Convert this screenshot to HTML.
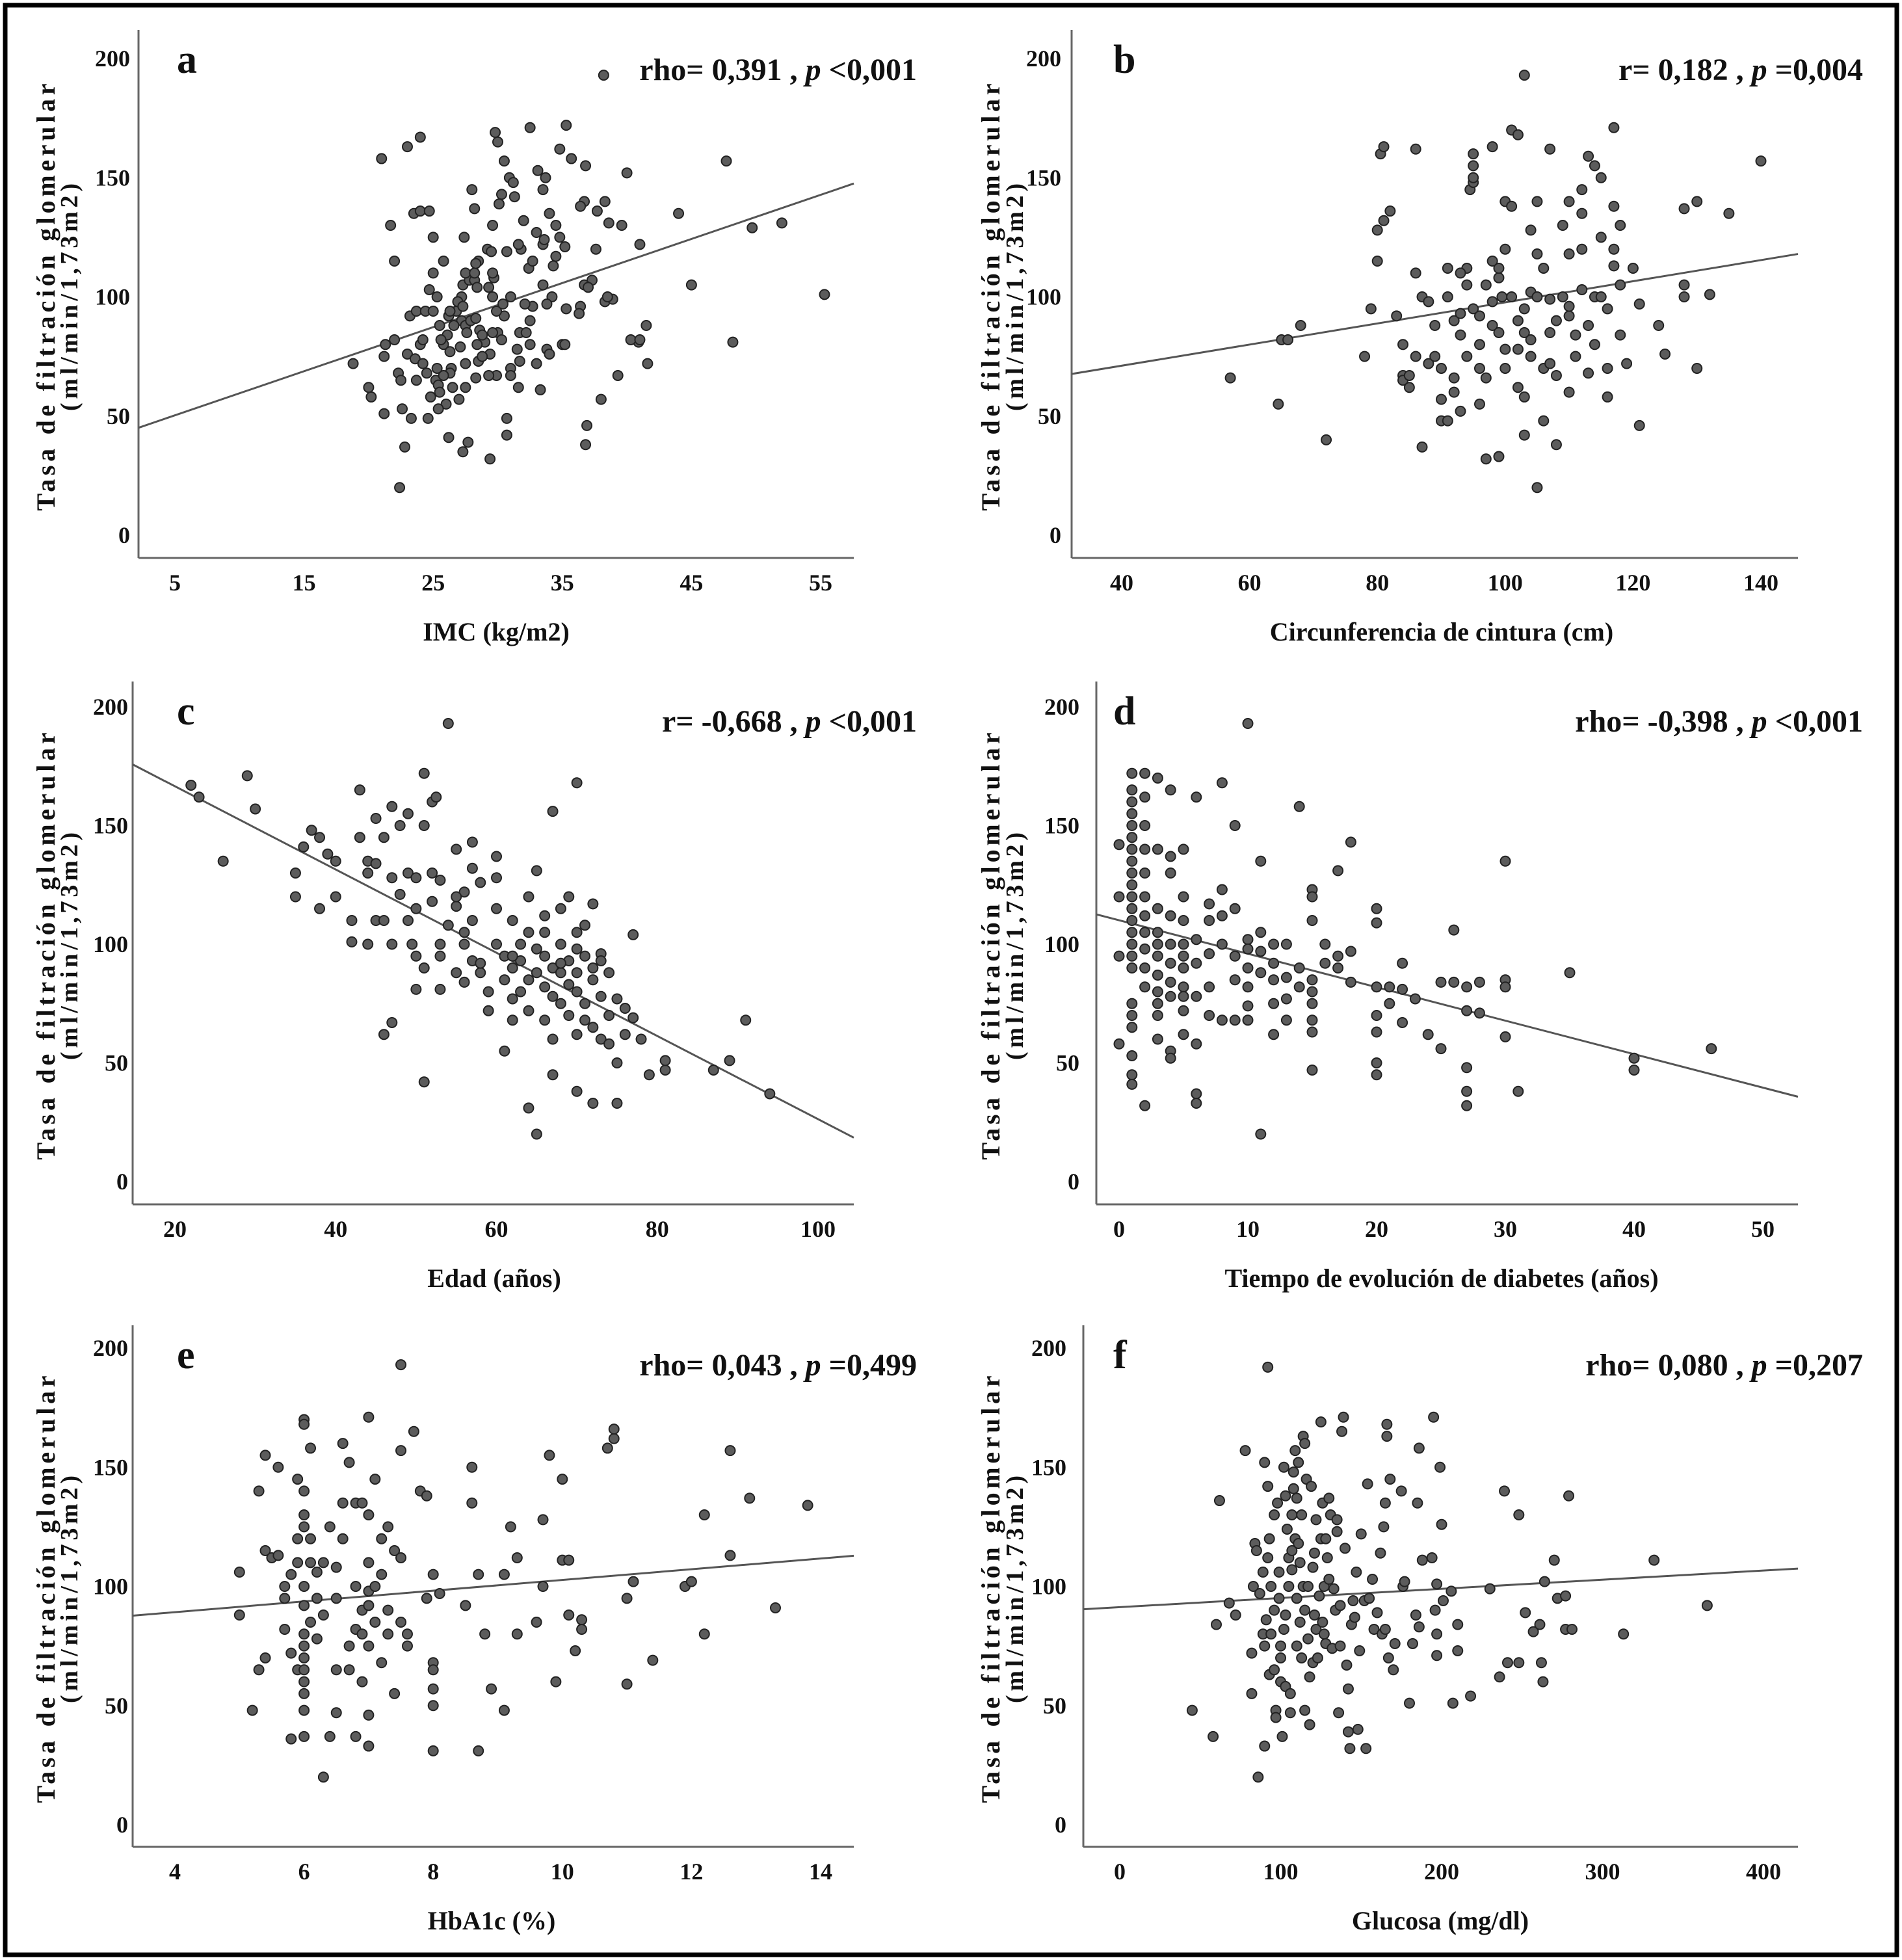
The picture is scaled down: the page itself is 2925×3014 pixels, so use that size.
<!DOCTYPE html>
<html><head><meta charset="utf-8"><style>
html,body{margin:0;padding:0;background:#fff}
svg{display:block}
text{font-family:"Liberation Serif",serif;font-weight:bold;fill:#111}
</style></head><body>
<svg id="fig" xmlns="http://www.w3.org/2000/svg" width="2925" height="3014" viewBox="0 0 2925 3014">
<rect x="8" y="8" width="2909" height="2998" fill="#fff" stroke="#000" stroke-width="7"/>
</svg>
<script>
const yTicks=[0,50,100,150,200];
const xTicksA=[5,15,25,35,45,55];
const xTicksB=[40,60,80,100,120,140];
const xTicksC=[20,40,60,80,100];
const xTicksD=[0,10,20,30,40,50];
const xTicksE=[4,6,8,10,12,14];
const xTicksF=[0,100,200,300,400];
const fitA=[41.05,1.85];
const fitB=[53.4,0.443];
const fitC=[201.6,-1.753];
const fitD=[110.1,-1.41];
const fitE=[80.2,2.25];
const fitF=[91.3,0.0384];
const ptsA=[[38.2,193],[21,158],[23,163],[24,167],[29.8,169],[30,165],[32.5,171],[35.3,172],[34.8,162],[35.7,158],[36.8,155],[40,152],[47.7,157],[44,135],[49.7,129],[52,131],[55.3,101],[45,105],[48.2,81],[41.5,88],[41.6,72],[39.3,67],[38,57],[36.9,46],[36.8,38],[40.9,81],[40.3,82],[41,82],[22.4,20],[22.8,37],[27.3,35],[29.4,32],[27.7,39],[26.2,41],[30.7,42],[30.7,49],[23.3,49],[24.6,49],[21.2,51],[22.6,53],[20.2,58],[20,62],[18.8,72],[22,115],[21.7,130],[23.5,135],[24,136],[24.7,136],[25,125],[28,145],[30.5,157],[30.9,150],[31.2,148],[31.3,142],[30.3,143],[30.1,139],[33.1,153],[33.7,150],[33.5,145],[34,135],[32,132],[33,127],[33.5,122],[34.5,130],[34.8,125],[34.5,117],[35.2,121],[36.7,140],[36.4,138],[38.3,140],[37.7,136],[38.6,131],[39.6,130],[41,122],[37.6,120],[37.3,107],[36.7,105],[37,104],[38.3,98],[38.9,99],[38.5,100],[36.4,96],[35.3,95],[36.3,93],[34.2,100],[33.5,105],[33.8,97],[32.7,96],[32.1,97],[32.5,90],[31.7,85],[32.2,85],[31.8,120],[32.4,112],[32.7,115],[34.3,113],[33.6,124],[28.2,137],[27.4,125],[29.2,120],[29.5,119],[29.6,130],[31.6,122],[30.7,119],[31,100],[30.5,92],[30,85],[30.3,82],[31.5,78],[31.7,73],[32.5,80],[33,72],[31,70],[31,67],[29.9,67],[29.3,67],[31.6,62],[33.3,61],[33.8,78],[34,76],[35,80],[35.2,80],[23,76],[23.6,74],[24.2,72],[24,80],[22,82],[21.3,80],[21.2,75],[22.3,68],[23.7,65],[22.5,65],[25.2,65],[25.4,63],[25.5,60],[26.5,62],[26,55],[25.4,53],[24.8,58],[27,57],[27.5,62],[28.3,66],[28.5,73],[27.5,72],[26.4,70],[26.3,68],[25.8,67],[25.3,70],[24.5,68],[23.2,92],[23.7,94],[24.4,94],[25,94],[25.5,88],[26.1,84],[25.8,80],[24.2,82],[25.6,82],[26.2,92],[26.8,94],[27.2,90],[27.5,88],[27.9,90],[28.3,91],[28.6,86],[29,81],[28.8,84],[29.6,85],[29.9,94],[30.4,97],[29.6,100],[29.3,104],[29.7,108],[29.6,110],[28.5,115],[27.3,105],[27.8,107],[28.2,107],[28.4,104],[27.2,100],[26.9,98],[27.3,96],[26.3,94],[26.6,88],[27.6,85],[28.4,80],[29.4,76],[28.8,75],[27.1,79],[26.3,77],[24.7,103],[25.3,100],[25,110],[25.8,115],[27.5,110],[28.2,110],[28.3,114]];
const ptsB=[[103,193],[57,66],[64.5,55],[65,82],[66,82],[68,88],[72,40],[78,75],[79,95],[80,115],[80,128],[80.5,160],[81,163],[81,132],[82,136],[83,92],[84,80],[84,67],[84,65],[85,62],[85,67],[86,162],[86,110],[87,37],[87,100],[88,72],[88,98],[89,75],[90,70],[90,57],[90,48],[91,48],[91,112],[91,100],[92,90],[92,66],[92,60],[93,93],[93,84],[93,52],[94,75],[94,105],[94,112],[94.5,145],[95,148],[95,150],[95,155],[95,160],[96,92],[96,80],[96,70],[96,55],[97,32],[97,66],[98,115],[98,98],[98,88],[98,163],[99,33],[99,85],[99,108],[99.5,100],[100,120],[100,140],[100,70],[100,78],[101,138],[101,170],[102,168],[102,90],[102,78],[102,62],[103,95],[103,42],[103,58],[104,75],[104,82],[104,102],[104,128],[105,20],[105,118],[105,140],[105,100],[106,112],[106,70],[106,48],[107,85],[107,99],[107,162],[107,72],[108,90],[108,67],[108,38],[109,130],[109,100],[110,60],[110,92],[110,96],[110,118],[111,84],[111,75],[112,103],[112,120],[112,135],[113,159],[113,88],[113,68],[114,100],[114,80],[114,155],[115,100],[115,150],[115,125],[116,58],[116,70],[116,95],[117,171],[117,138],[117,120],[117,113],[118,105],[118,84],[118,130],[119,72],[120,112],[121,46],[121,97],[124,88],[125,76],[128,137],[128,105],[128,100],[130,140],[130,70],[132,101],[135,135],[140,157],[97,105],[99,112],[101,100],[103,85],[95,95],[93,110],[89,88],[86,75],[110,140],[112,145]];
const ptsC=[[22,167],[23,162],[26,135],[29,171],[30,157],[35,130],[35,120],[36,141],[37,148],[38,145],[38,115],[39,138],[40,135],[40,120],[42,110],[42,101],[43,165],[43,145],[44,130],[44,135],[45,134],[45,153],[45,110],[46,145],[46,62],[46,110],[47,128],[47,158],[47,67],[48,121],[48,150],[49,110],[49,155],[49,130],[49.5,100],[50,128],[50,81],[50,95],[50,115],[51,172],[51,150],[51,90],[51,42],[52,118],[52,160],[52,130],[52.5,162],[53,100],[53,95],[53,81],[54,193],[54,108],[55,88],[55,116],[55,140],[56,122],[56,105],[56,84],[56,100],[57,143],[57,132],[57,110],[57,93],[58,88],[58,126],[58,92],[59,80],[59,72],[60,100],[60,115],[60,137],[61,85],[61,55],[61,95],[62,90],[62,110],[62,77],[62,68],[63,80],[63,100],[63,93],[64,85],[64,31],[64,72],[64,120],[65,20],[65,88],[65,131],[65,98],[66,82],[66,68],[66,95],[66,105],[67,156],[67,60],[67,45],[67,78],[67,90],[68,115],[68,100],[68,75],[68,88],[69,83],[69,93],[69,70],[69,120],[70,168],[70,98],[70,62],[70,80],[70,88],[70,38],[71,95],[71,75],[71,68],[71,108],[72,90],[72,65],[72,85],[72,33],[72,117],[73,96],[73,78],[73,93],[73,60],[74,70],[74,58],[74,88],[75,77],[75,33],[75,50],[76,73],[76,62],[77,69],[77,104],[78,60],[79,45],[81,47],[81,51],[87,47],[89,51],[91,68],[94,37],[60,128],[62,95],[64,105],[66,112],[68,92],[70,105],[53,127],[47,100],[44,100],[55,120]];
const ptsD=[[0,142],[0,95],[0,120],[0,58],[1,172],[1,165],[1,160],[1,155],[1,150],[1,145],[1,140],[1,135],[1,130],[1,125],[1,120],[1,115],[1,110],[1,105],[1,100],[1,95],[1,90],[1,75],[1,70],[1,65],[1,45],[1,41],[1,53],[2,172],[2,162],[2,150],[2,140],[2,130],[2,120],[2,112],[2,105],[2,98],[2,90],[2,82],[2,32],[3,170],[3,140],[3,115],[3,105],[3,100],[3,95],[3,87],[3,80],[3,75],[3,70],[3,60],[4,165],[4,137],[4,130],[4,112],[4,100],[4,92],[4,84],[4,78],[4,55],[4,52],[5,140],[5,120],[5,110],[5,100],[5,95],[5,90],[5,82],[5,78],[5,72],[5,62],[6,162],[6,102],[6,78],[6,37],[6,33],[6,58],[6,92],[7,117],[7,110],[7,96],[7,82],[7,70],[8,168],[8,100],[8,68],[8,112],[8,123],[9,150],[9,115],[9,95],[9,85],[9,68],[10,193],[10,102],[10,98],[10,90],[10,82],[10,74],[10,68],[11,135],[11,105],[11,97],[11,88],[11,20],[12,100],[12,92],[12,85],[12,75],[12,62],[13,100],[13,86],[13,77],[14,158],[14,90],[14,82],[15,123],[15,120],[15,110],[15,85],[15,80],[15,75],[15,68],[15,63],[15,47],[16,100],[16,92],[17,131],[17,95],[17,90],[18,143],[18,97],[20,115],[20,109],[20,82],[20,70],[20,63],[20,50],[20,45],[21,82],[21,75],[22,81],[22,67],[22,92],[23,77],[24,62],[25,56],[26,106],[26,84],[27,82],[27,48],[27,38],[27,32],[28,71],[28,84],[30,135],[30,85],[30,82],[30,61],[31,38],[35,88],[40,52],[40,47],[46,56],[27,72],[25,84],[18,84],[13,68]];
const ptsE=[[5,106],[5,88],[5.2,48],[5.3,140],[5.4,155],[5.4,115],[5.3,65],[5.4,70],[5.5,112],[5.6,150],[5.6,113],[5.7,95],[5.7,82],[5.8,105],[5.8,36],[5.8,72],[5.9,145],[5.9,110],[5.9,120],[5.9,65],[6,170],[6,168],[6,140],[6,130],[6,125],[6,100],[6,92],[6,80],[6,75],[6,70],[6,65],[6,60],[6,55],[6,48],[6,37],[6.1,158],[6.1,120],[6.1,110],[6.1,85],[6.2,106],[6.2,95],[6.2,78],[6.3,20],[6.3,88],[6.4,37],[6.5,47],[6.5,65],[6.5,95],[6.5,108],[6.6,160],[6.6,120],[6.7,152],[6.7,75],[6.7,65],[6.8,135],[6.8,100],[6.8,82],[6.8,37],[6.9,135],[6.9,90],[6.9,80],[6.9,60],[7,171],[7,130],[7,110],[7,98],[7,92],[7,75],[7,46],[7,33],[7.1,145],[7.1,100],[7.1,85],[7.2,120],[7.2,68],[7.3,125],[7.3,90],[7.3,80],[7.4,115],[7.4,55],[7.5,193],[7.5,157],[7.5,112],[7.5,85],[7.6,80],[7.6,75],[7.7,165],[7.8,140],[7.9,138],[7.9,95],[8,105],[8,68],[8,65],[8,57],[8,50],[8,31],[8.1,97],[8.5,92],[8.6,150],[8.6,135],[8.7,105],[8.7,31],[8.8,80],[8.9,57],[9.1,48],[9.1,105],[9.2,125],[9.3,80],[9.3,112],[9.6,85],[9.7,128],[9.7,100],[9.8,155],[9.9,60],[10,145],[10,111],[10.1,111],[10.1,88],[10.2,73],[10.3,86],[10.3,82],[10.7,158],[10.8,162],[10.8,166],[11,95],[11,59],[11.1,102],[11.4,69],[11.9,100],[12,102],[12.2,80],[12.2,130],[12.6,157],[12.6,113],[12.9,137],[13.3,91],[13.8,134],[6.4,125],[6.6,135],[7.2,105],[6.3,110],[5.7,100]];
const ptsF=[[45,48],[58,37],[60,84],[62,136],[68,93],[72,88],[78,157],[82,55],[82,72],[83,100],[84,118],[85,115],[86,20],[87,97],[89,106],[89,80],[90,152],[90,33],[90,75],[91,86],[92,192],[92,142],[92,112],[93,63],[93,120],[94,100],[94,80],[96,90],[96,130],[96,65],[97,48],[97,45],[98,135],[99,106],[99,95],[100,75],[100,60],[100,70],[101,37],[102,150],[102,82],[103,138],[103,88],[103,58],[104,124],[105,100],[105,112],[106,47],[106,55],[107,115],[107,107],[107,130],[108,141],[108,148],[109,120],[109,157],[110,137],[110,95],[110,75],[111,152],[111,118],[112,110],[112,85],[113,130],[113,70],[114,163],[114,100],[115,90],[115,48],[115,160],[116,145],[117,78],[117,100],[118,62],[118,42],[119,142],[120,68],[120,108],[121,114],[121,88],[122,82],[122,128],[123,70],[124,96],[125,120],[125,169],[126,85],[126,135],[127,100],[127,80],[128,76],[128,120],[129,112],[130,103],[130,137],[131,130],[132,74],[133,99],[134,90],[135,123],[135,128],[136,47],[137,75],[137,92],[138,165],[139,171],[140,116],[141,67],[142,57],[142,39],[143,32],[144,84],[145,94],[146,87],[147,106],[148,40],[149,73],[150,122],[152,94],[153,32],[154,143],[155,95],[157,103],[158,82],[160,89],[162,114],[163,80],[164,125],[165,82],[165,135],[166,163],[166,168],[167,70],[168,145],[170,65],[171,76],[175,140],[176,100],[177,102],[180,51],[182,76],[184,88],[185,135],[186,158],[186,83],[188,111],[194,112],[195,171],[196,90],[197,80],[197,71],[197,101],[199,150],[200,126],[201,94],[206,98],[207,51],[210,84],[210,73],[218,54],[230,99],[236,62],[239,140],[241,68],[248,68],[248,130],[252,89],[257,81],[261,84],[262,68],[263,60],[264,102],[270,111],[272,95],[277,82],[277,96],[279,138],[281,82],[313,80],[332,111],[365,92]];

const NS="http://www.w3.org/2000/svg";
const svg=document.getElementById('fig');
function mk(tag,attrs,parent,txt){const e=document.createElementNS(NS,tag);for(const k in attrs)e.setAttribute(k,attrs[k]);if(txt!==undefined)e.textContent=txt;parent.appendChild(e);return e;}

const panels=[
 {id:'a',pts:ptsA,fit:fitA,xt:xTicksA,ax:213,right:1313,top:46,bottom:858,x0:[5,269],x1:[55,1262],y0:823,y200:90,lblR:200,letterX:272,statR:1410,stat:['rho= 0,391 , ','p',' <0,001'],xtitle:'IMC (kg/m2)',xtc:763,t1:84,t2:119},
 {id:'b',pts:ptsB,fit:fitB,xt:xTicksB,ax:1648,right:2765,top:46,bottom:858,x0:[40,1725],x1:[140,2708],y0:823,y200:90,lblR:1632,letterX:1712,statR:2865,stat:['r= 0,182 , ','p',' =0,004'],xtitle:'Circunferencia de cintura (cm)',xtc:2217,t1:1537,t2:1573},
 {id:'c',pts:ptsC,fit:fitC,xt:xTicksC,ax:204,right:1313,top:1048,bottom:1852,x0:[20,269],x1:[100,1258],y0:1817,y200:1087,lblR:197,letterX:272,statR:1410,stat:['r= -0,668 , ','p',' <0,001'],xtitle:'Edad (años)',xtc:760,t1:84,t2:119},
 {id:'d',pts:ptsD,fit:fitD,xt:xTicksD,ax:1686,right:2765,top:1048,bottom:1852,x0:[0,1721],x1:[50,2711],y0:1817,y200:1087,lblR:1660,letterX:1712,statR:2865,stat:['rho= -0,398 , ','p',' <0,001'],xtitle:'Tiempo de evolución de diabetes (años)',xtc:2217,t1:1537,t2:1573},
 {id:'e',pts:ptsE,fit:fitE,xt:xTicksE,ax:204,right:1313,top:2038,bottom:2840,x0:[4,269],x1:[14,1262],y0:2806,y200:2073,lblR:197,letterX:272,statR:1410,stat:['rho= 0,043 , ','p',' =0,499'],xtitle:'HbA1c (%)',xtc:756,t1:84,t2:119},
 {id:'f',pts:ptsF,fit:fitF,xt:xTicksF,ax:1666,right:2765,top:2038,bottom:2840,x0:[0,1722],x1:[400,2712],y0:2806,y200:2073,lblR:1640,letterX:1712,statR:2865,stat:['rho= 0,080 , ','p',' =0,207'],xtitle:'Glucosa (mg/dl)',xtc:2215,t1:1537,t2:1573}
];

panels.forEach(p=>{
  const g=mk('g',{},svg);
  
  
  const sx=v=>p.x0[1]+(v-p.x0[0])*(p.x1[1]-p.x0[1])/(p.x1[0]-p.x0[0]);
  const sy=v=>p.y0+(v)*(p.y200-p.y0)/200;
  const ix=px=>p.x0[0]+(px-p.x0[1])*(p.x1[0]-p.x0[0])/(p.x1[1]-p.x0[1]);
  const ya=mk('line',{x1:p.ax,y1:p.top,x2:p.ax,y2:p.bottom,stroke:'#666','stroke-width':3},g);
  
  
  const xa=mk('line',{x1:p.ax,y1:p.bottom,x2:p.right,y2:p.bottom,stroke:'#666','stroke-width':3},g);
  
  
  yTicks.forEach(t=>{
    const e=mk('text',{x:p.lblR,y:sy(t)+12,'text-anchor':'end','font-size':36},g,String(t));
    
    
  });
  const xb=p.bottom+50;
  p.xt.forEach(t=>{
    const e=mk('text',{x:sx(t),y:xb,'text-anchor':'middle','font-size':36},g,String(t));
    
    
  });
  const xl=ix(p.ax), xr=ix(p.right);
  const fl=mk('line',{x1:p.ax,y1:sy(p.fit[0]+p.fit[1]*xl),x2:p.right,y2:sy(p.fit[0]+p.fit[1]*xr),stroke:'#555','stroke-width':3},g);
  
  
  p.pts.forEach(d=>{
    const c=mk('circle',{cx:sx(d[0]),cy:sy(d[1]),r:7.5,fill:'#5c5c5c',stroke:'#222','stroke-width':2},g);
    
    
  });
  const L=mk('text',{x:p.letterX,y:p.top+66,'font-size':62},g,p.id);
  
  
  const st=mk('text',{x:p.statR,y:p.top+77,'text-anchor':'end','font-size':48},g);
  
  
  mk('tspan',{},st,p.stat[0]); mk('tspan',{'font-style':'italic'},st,p.stat[1]); mk('tspan',{},st,p.stat[2]);
  const xt=mk('text',{x:p.xtc,y:p.bottom+127,'text-anchor':'middle','font-size':40},g,p.xtitle);
  
  
  const cy=(p.top+p.bottom)/2+5;
  const t1=mk('text',{x:p.t1,y:cy,'text-anchor':'middle','font-size':40,textLength:657,lengthAdjust:'spacing',transform:`rotate(-90 ${p.t1} ${cy})`},g,'Tasa de filtración glomerular');
  
  
  const t2=mk('text',{x:p.t2,y:cy,'text-anchor':'middle','font-size':38,textLength:350,lengthAdjust:'spacing',transform:`rotate(-90 ${p.t2} ${cy})`},g,'(ml/min/1,73m2)');
  
  
});
</script>
</body></html>
